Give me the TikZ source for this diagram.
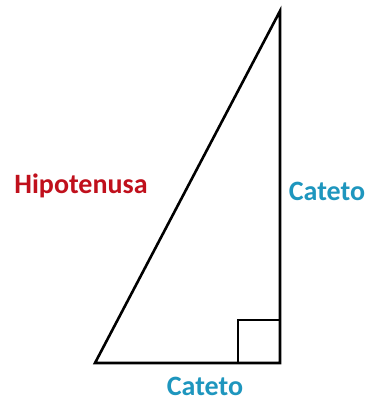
\documentclass[tikz,border=0pt]{standalone}
\usepackage{fontspec}
\setmainfont{Carlito}
\usetikzlibrary{positioning}
\definecolor{hipred}{RGB}{192,16,28}
\definecolor{catblue}{RGB}{30,150,190}

\begin{document}
\begin{tikzpicture}[
  x=1pt, y=-1pt,
  side/.style={line width=2.6pt, line join=miter},
  label/.style={font=\fontsize{28}{30}\selectfont\bfseries, inner sep=0pt}
]
\useasboundingbox (0,0) rectangle (367,403);

\coordinate (A) at (95,363);
\coordinate (B) at (280,363);
\coordinate (C) at (280,11);

\draw[side] (A) -- (B) -- (C) -- cycle;
\draw[line width=2.2pt] (238,363) -- (238,320) -- (280,320);

\node[label, text=hipred] (hip) at (81,186) {Hipotenusa};
\node[label, text=catblue] (catv) at (327,191) {Cateto};
\node[label, text=catblue] (cath) at (205,386) {Cateto};
\end{tikzpicture}
\end{document}
